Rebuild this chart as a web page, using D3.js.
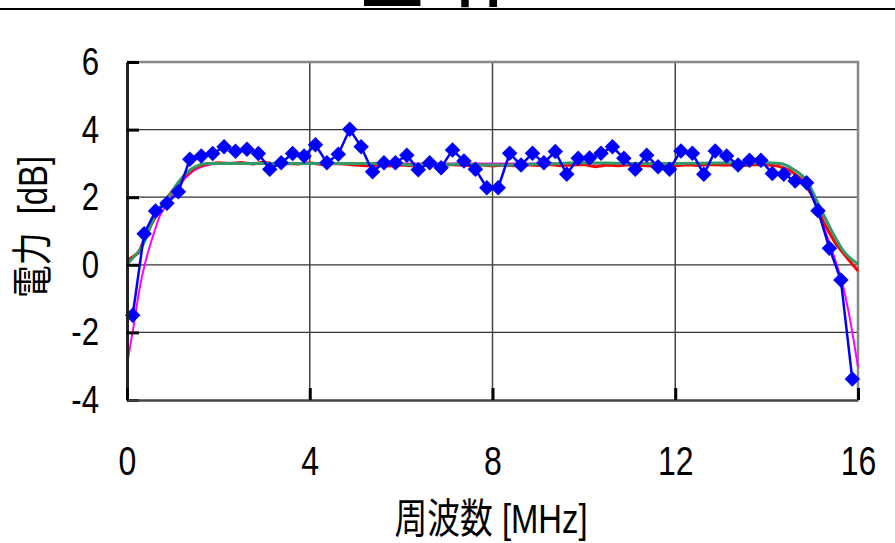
<!DOCTYPE html>
<html>
<head>
<meta charset="utf-8">
<script src="https://cdn.jsdelivr.net/npm/d3@7"></script>
<style>
  html, body { margin: 0; padding: 0; background: #fff; }
  svg { display: block; }
  .num { font-family: "Liberation Sans", Arial, sans-serif; }
  .cjk { font-family: "Liberation Sans", "Noto Sans CJK JP", sans-serif; white-space: pre; }
</style>
</head>
<body>
<svg id="chart" width="895" height="543"></svg>
<script>
// ---- data ----------------------------------------------------------------
const titleText = "全体";
const xLabel = "周波数 [MHz]";
const yLabel = "電力  [dB]";
const xTicks = [0, 4, 8, 12, 16];
const yTicks = [-4, -2, 0, 2, 4, 6];

// measured points (blue diamonds), 0.25 MHz spacing starting at 0.125 MHz
const measuredX = d3.range(64).map(i => 0.125 + 0.25 * i);
const measuredY = [
  -1.49, 0.92, 1.59, 1.82, 2.16, 3.12, 3.22, 3.29, 3.49, 3.36,
   3.42, 3.29, 2.83, 3.02, 3.29, 3.22, 3.55, 3.02, 3.27, 4.01,
   3.49, 2.75, 3.02, 3.02, 3.24, 2.81, 3.02, 2.87, 3.40, 3.07,
   2.83, 2.28, 2.28, 3.30, 2.95, 3.30, 3.02, 3.35, 2.68, 3.15,
   3.16, 3.30, 3.49, 3.15, 2.83, 3.24, 2.90, 2.83, 3.37, 3.30,
   2.68, 3.37, 3.22, 2.95, 3.09, 3.09, 2.70, 2.68, 2.48, 2.43,
   1.60, 0.49, -0.45, -3.38
];

// red trace, 0.25 MHz spacing from 0 to 16 MHz
const redX = d3.range(65).map(i => 0.25 * i);
const redY = [
  0.12, 0.35, 1.10, 1.75, 2.20, 2.60, 2.88, 2.98, 3.02, 3.00,
  3.03, 2.98, 3.04, 2.97, 3.00, 2.98, 3.02, 2.97, 3.00, 2.98,
  2.95, 2.93, 2.95, 2.92, 2.95, 2.93, 2.96, 2.94, 2.97, 2.95,
  2.93, 2.96, 2.92, 2.95, 2.93, 2.96, 2.94, 2.97, 2.93, 2.95,
  2.97, 2.90, 2.95, 2.93, 2.96, 2.94, 2.92, 2.95, 2.93, 2.96,
  2.94, 2.97, 2.95, 2.96, 2.94, 2.97, 2.96, 2.92, 2.80, 2.55,
  2.05, 1.25, 0.65, 0.22, -0.18
];

// green trace
const greenX = [0, 0.14, 0.36, 0.5, 0.65, 0.87, 1.09, 1.31, 1.52, 1.74,
  4, 5.9, 6.1, 7.0, 7.2, 8.0, 9.5, 10, 11, 12, 14.0,
  14.29, 14.58, 14.88, 15.17, 15.46, 15.68, 16];
const greenY = [0.02, 0.22, 0.61, 1.10, 1.55, 1.92, 2.38, 2.73, 2.92, 3.00,
  3.00, 3.00, 2.96, 2.96, 2.98, 2.95, 3.00, 3.02, 3.00, 3.00, 3.02,
  3.00, 2.83, 2.48, 1.69, 0.91, 0.41, 0.02];

// magenta trace
const magentaX = [0, 0.14, 0.28, 0.43, 0.58, 0.72, 0.87, 1.0, 1.2, 1.4, 1.6, 1.8, 2.0,
  4, 8, 12, 14.0, 14.3, 14.6, 14.85, 15.0, 15.15, 15.31, 15.5, 15.68, 15.85, 16];
const magentaY = [-2.96, -1.85, -0.67, 0.22, 0.90, 1.45, 1.79, 2.10, 2.45, 2.72, 2.88, 2.96, 3.00,
  3.00, 3.00, 3.00, 3.00, 2.90, 2.70, 2.35, 2.00, 1.50, 0.90, 0.15, -0.67, -1.80, -3.03];

// ---- layout --------------------------------------------------------------
const svg = d3.select("#chart");
const plot = { left: 127, right: 858, top: 62, bottom: 400 };
const narrow = 0.8;   // horizontal squeeze for the condensed label face

const x = d3.scaleLinear().domain([0, 16]).range([plot.left, plot.right]);
const y = d3.scaleLinear().domain([-4, 6]).range([plot.bottom, plot.top]);

// title strip and rule along the top edge
svg.append("text")
  .attr("x", 359).attr("y", 1)
  .attr("font-family", "Noto Sans CJK JP, sans-serif")
  .attr("font-weight", "bold")
  .attr("font-size", 66)
  .attr("letter-spacing", 27)
  .attr("fill", "#000")
  .text(titleText);
svg.append("line")
  .attr("x1", 0).attr("x2", 895).attr("y1", 9).attr("y2", 9)
  .attr("stroke", "#000").attr("stroke-width", 2);

// grid
const grid = svg.append("g");
grid.selectAll("line.h").data(yTicks.filter(v => v > -4 && v < 6)).join("line")
  .attr("x1", plot.left).attr("x2", plot.right)
  .attr("y1", d => y(d)).attr("y2", d => y(d))
  .attr("stroke", "#333").attr("stroke-width", 1.3);
grid.selectAll("line.v").data(xTicks.filter(v => v > 0 && v < 16)).join("line")
  .attr("y1", plot.top).attr("y2", plot.bottom)
  .attr("x1", d => x(d)).attr("x2", d => x(d))
  .attr("stroke", "#444").attr("stroke-width", 1.5);

// frame (top and right edges)
svg.append("path")
  .attr("d", `M${plot.left},${plot.top}H${plot.right}V${plot.bottom}`)
  .attr("fill", "none").attr("stroke", "#888").attr("stroke-width", 2.5);

// series lines
const line = d3.line().x(d => x(d[0])).y(d => y(d[1]));
const smooth = d3.line().x(d => x(d[0])).y(d => y(d[1])).curve(d3.curveMonotoneX);
const zip = (a, b) => a.map((v, i) => [v, b[i]]);

const series = svg.append("g");
series.append("path").datum(zip(magentaX, magentaY))
  .attr("d", smooth)
  .attr("fill", "none").attr("stroke", "#ff00ff").attr("stroke-width", 2);
series.append("path").datum(zip(redX, redY))
  .attr("d", line)
  .attr("fill", "none").attr("stroke", "#ff0000").attr("stroke-width", 3);
series.append("path").datum(zip(greenX, greenY))
  .attr("d", smooth)
  .attr("fill", "none").attr("stroke", "#339966").attr("stroke-width", 3);
series.append("path").datum(zip(measuredX, measuredY))
  .attr("d", line)
  .attr("fill", "none").attr("stroke", "#0000ff").attr("stroke-width", 2.5);

// diamond markers
const diamond = d3.symbol(d3.symbolSquare, 120);
series.selectAll("path.mk").data(zip(measuredX, measuredY)).join("path")
  .attr("class", "mk")
  .attr("d", diamond)
  .attr("transform", d => `translate(${x(d[0])},${y(d[1])}) rotate(45)`)
  .attr("fill", "#0000ff");

// axes (plain hyphen-minus labels)
const fmt = d => String(d);
const yAxis = svg.append("g")
  .attr("transform", `translate(${plot.left},0)`)
  .call(d3.axisLeft(y).tickValues(yTicks).tickFormat(fmt)
    .tickSizeInner(-12).tickSizeOuter(0).tickPadding(28));
yAxis.select(".domain").attr("stroke", "#222").attr("stroke-width", 3);
yAxis.selectAll(".tick line").attr("stroke", "#000").attr("stroke-width", 3);
yAxis.selectAll(".tick text")
  .attr("class", "num").attr("font-family", null)
  .attr("font-size", 39).attr("fill", "#000")
  .attr("x", -28 / narrow)
  .attr("transform", `scale(${narrow},1)`);

const xAxis = svg.append("g")
  .attr("transform", `translate(0,${plot.bottom})`)
  .call(d3.axisBottom(x).tickValues(xTicks).tickFormat(fmt)
    .tickSizeInner(-12).tickSizeOuter(0).tickPadding(47));
xAxis.select(".domain").attr("stroke", "#444").attr("stroke-width", 2.5);
xAxis.selectAll(".tick line").attr("stroke", "#000").attr("stroke-width", 3);
xAxis.selectAll(".tick text")
  .attr("class", "num").attr("font-family", null)
  .attr("font-size", 40).attr("fill", "#000")
  .attr("x", 0)
  .attr("transform", `scale(${narrow},1)`);

// axis titles
svg.append("text")
  .attr("class", "cjk")
  .attr("transform", `translate(491,533) scale(0.8,1)`)
  .attr("text-anchor", "middle")
  .attr("font-size", 41)
  .attr("fill", "#000")
  .text(xLabel);
svg.append("text")
  .attr("class", "cjk")
  .attr("transform", `translate(47,227) rotate(-90) scale(0.8,1)`)
  .attr("text-anchor", "middle")
  .attr("font-size", 41)
  .attr("fill", "#000")
  .text(yLabel);
</script>
</body>
</html>
